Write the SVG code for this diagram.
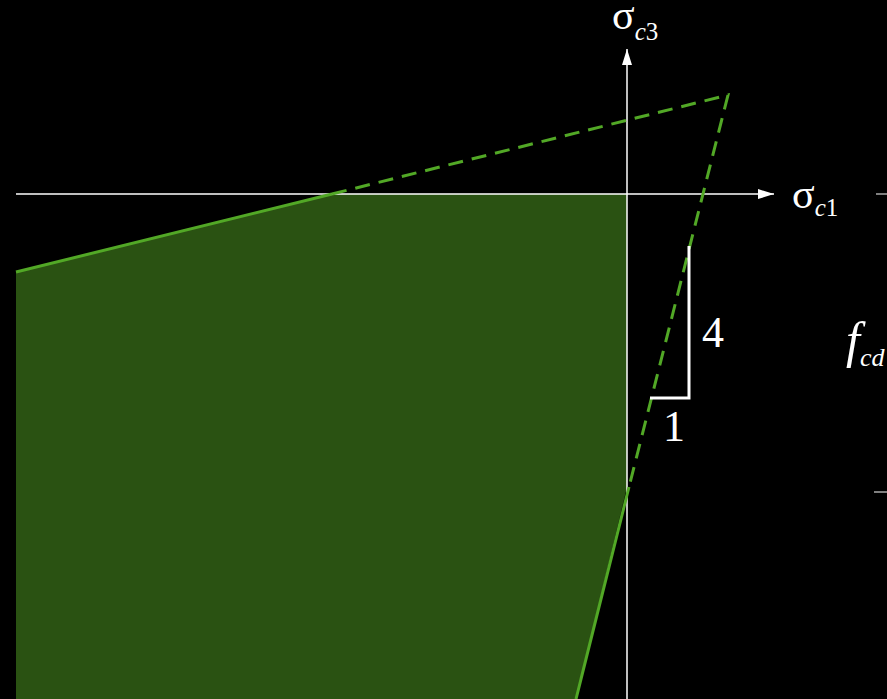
<svg xmlns="http://www.w3.org/2000/svg" width="887" height="699" viewBox="0 0 887 699">
<style>
.ax{stroke:#fff;stroke-width:1.5;fill:none}
.g{stroke:#52a826;stroke-width:3;fill:none}
.gd{stroke:#52a826;stroke-width:3;fill:none;stroke-dasharray:15 9}
.t{font-family:'Liberation Serif','Times New Roman',Times,serif;fill:#fff}
.i{font-style:italic}
.tick{stroke:#aaa;stroke-width:1.5}
</style>
<defs>
<marker id="ah" markerWidth="16" markerHeight="10" refX="16" refY="5" orient="auto" markerUnits="userSpaceOnUse">
<path d="M0,0 L16,5 L0,10 Z" fill="#fff"/>
</marker>
</defs>
<rect width="887" height="699" fill="#000"/>
<g id="region">
<polygon points="16,272 332,194 627,194 627,487 576,699 16,699" fill="#2a5212"/>
</g>
<g id="axes">
<line class="ax" x1="16" y1="194" x2="774" y2="194" marker-end="url(#ah)"/>
<line class="ax" x1="627" y1="699" x2="627" y2="49" marker-end="url(#ah)"/>
<line class="tick" x1="876" y1="194" x2="887" y2="194"/>
<line class="tick" x1="874" y1="492" x2="887" y2="492"/>
</g>
<g id="connectors">
<polyline class="g" points="16,272 332,194"/>
<polyline class="g" points="629,487 576,699"/>
<polyline class="gd" points="332,194 728,95 629,487"/>
<polyline points="689,246 689,398 650,398" fill="none" stroke="#fff" stroke-width="3"/>
</g>
<g id="labels">
<text class="t" x="612" y="29" font-size="42">σ<tspan class="i" font-size="25" dy="11">c</tspan><tspan font-size="25">3</tspan></text>
<text class="t" x="792" y="208" font-size="42">σ<tspan class="i" font-size="25" dy="8">c</tspan><tspan font-size="25">1</tspan></text>
<text class="t" x="702" y="347" font-size="44">4</text>
<text class="t" x="663" y="441" font-size="44">1</text>
<text class="t i" x="846" y="357" font-size="50">f<tspan font-size="26" dy="9">cd</tspan></text>
</g>
</svg>
